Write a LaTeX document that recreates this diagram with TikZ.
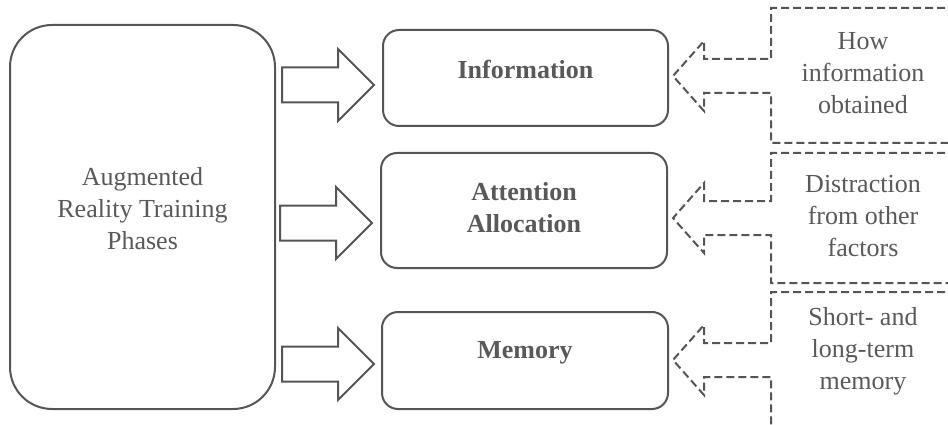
\documentclass[tikz,border=0pt]{standalone}
\usepackage{fontspec}
\setmainfont{Liberation Serif}
\usetikzlibrary{calc}
\definecolor{linegray}{RGB}{85,85,85}
\definecolor{textgray}{RGB}{89,89,89}
\tikzset{
  phasebox/.style={draw=linegray, line width=2pt, rounded corners=16pt,
    inner sep=0pt, fill=white},
  bigbox/.style={phasebox, rounded corners=42pt},
  txt/.style={text=textgray, align=center, inner sep=0pt,
    font=\fontsize{26}{32}\selectfont},
  boldtxt/.style={txt, font=\fontsize{26}{32}\selectfont\bfseries},
  fatarrow/.style={draw=linegray, line width=2pt, line join=miter, fill=white},
  callout/.style={draw=linegray, line width=2pt, dash pattern=on 8pt off 4pt}
}
% hollow block arrow ending at the given tip
\newcommand\blockarrow[1]{%
  \draw[fatarrow] (#1) -- ++(-36,-36) -- ++(0,18.5) -- ++(-56,0) -- ++(0,35)
    -- ++(56,0) -- ++(0,18.5) -- cycle;}
% dashed arrow callout: tip, distance up to its top edge, distance down to its bottom edge
\newcommand\dashcallout[3]{%
  \draw[callout] ($(#1)+(320,-#2)$) -- ($(#1)+(98,-#2)$) -- ($(#1)+(98,-17)$)
    -- ($(#1)+(31,-17)$) -- ($(#1)+(31,-35)$) -- (#1) -- ($(#1)+(31,35)$)
    -- ($(#1)+(31,17)$) -- ($(#1)+(98,17)$) -- ($(#1)+(98,#3)$)
    -- ($(#1)+(320,#3)$);}
\begin{document}
\begin{tikzpicture}[x=1pt, y=-1pt]
  \useasboundingbox (0,0) rectangle (948,425);
  \clip (0,0) rectangle (948,425);

  % training phases
  \node[bigbox, minimum width=265pt, minimum height=384pt] (ar) at (142.5,217) {};
  \node[txt] (artxt) at ($(ar.center)+(0,-8)$) {Augmented\\Reality Training\\Phases};

  % cognitive components
  \node[phasebox, minimum width=285pt, minimum height=96pt] (info) at (525.5,78) {};
  \node[boldtxt] (infotxt) at ($(info.center)+(0,-9)$) {Information};

  \node[phasebox, minimum width=286pt, minimum height=115pt] (attn) at (524,210.5) {};
  \node[boldtxt] (attntxt) at ($(attn.center)+(0,-3)$) {Attention\\Allocation};

  \node[phasebox, minimum width=286pt, minimum height=97pt] (mem) at (525,360.5) {};
  \node[boldtxt] (memtxt) at ($(mem.center)+(0,-8)$) {Memory};

  % block arrows from the phases to each component
  \coordinate (a1) at ($(info.west)+(-8,7)$);
  \coordinate (a2) at ($(attn.west)+(-8,12.5)$);
  \coordinate (a3) at ($(mem.west)+(-7,3.5)$);
  \blockarrow{a1}
  \blockarrow{a2}
  \blockarrow{a3}

  % influencing factors
  \coordinate (c1) at ($(info.east)+(4,-2)$);
  \coordinate (c2) at ($(attn.east)+(5,7.5)$);
  \coordinate (c3) at ($(mem.east)+(4,-0.5)$);
  \dashcallout{c1}{68}{67}
  \dashcallout{c2}{65}{65}
  \dashcallout{c3}{68}{90}

  \node[txt] (f1) at (863,73) {How\\information\\obtained};
  \node[txt] (f2) at (863,216) {Distraction\\from other\\factors};
  \node[txt] (f3) at (863,351) {Short- and\\long-term\\memory};
\end{tikzpicture}
\end{document}
